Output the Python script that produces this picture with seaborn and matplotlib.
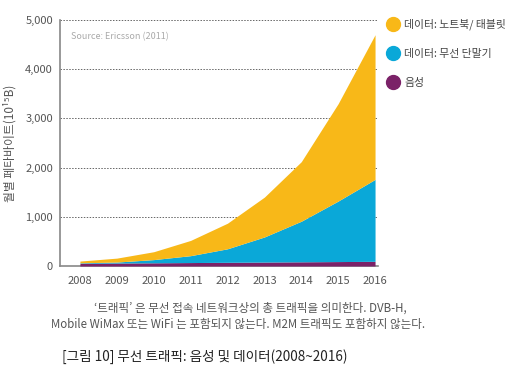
import matplotlib
matplotlib.use("Agg")
import matplotlib.pyplot as plt
from matplotlib.lines import Line2D
import seaborn as sns
import pandas as pd

years = [2008, 2009, 2010, 2011, 2012, 2013, 2014, 2015, 2016]
voice = [55, 60, 65, 70, 75, 80, 85, 90, 95]
mobile = [10, 20, 65, 140, 275, 510, 825, 1230, 1665]
notebook = [35, 80, 160, 310, 520, 810, 1210, 1980, 2940]
labels = ['데이터: 노트북/ 태블릿', '데이터: 무선 단말기', '음성']
colors = ['#F8B818', '#0AA8D8', '#7B2268']
yticks = [0, 1000, 2000, 3000, 4000, 5000]

sns.set_style('white')
plt.rcParams['font.family'] = ['Noto Sans CJK KR', 'DejaVu Sans']

df = pd.DataFrame({'year': years, 'voice': voice, 'mobile': mobile, 'notebook': notebook})

fig = plt.figure(figsize=(5.2, 3.79), dpi=100)
ax = fig.add_axes([60/520, 1-266/379, 318/520, 246/379])

ax.stackplot(df['year'], df['voice'], df['mobile'], df['notebook'],
             colors=[colors[2], colors[1], colors[0]], linewidth=0, zorder=3)

ax.set_xlim(2007.46, 2016.08)
ax.set_ylim(0, 5000)
ax.set_xticks(years)
ax.set_yticks(yticks)
ax.set_yticklabels([f'{v:,}' for v in yticks])
ax.grid(axis='y', linestyle=(0, (1.5, 1.5)), color='#666666', linewidth=0.7, zorder=0)
ax.grid(axis='x', visible=False)
ax.tick_params(axis='both', labelsize=8, colors='#555555', length=0)
ax.tick_params(axis='x', pad=7)
ax.tick_params(axis='y', pad=5)
for s in ['top', 'right']:
    ax.spines[s].set_visible(False)
for s in ['left', 'bottom']:
    ax.spines[s].set_color('#888888')
    ax.spines[s].set_linewidth(1.2)

ax.set_ylabel('월별 페타바이트(10¹⁵B)', fontsize=8.5, color='#555555', labelpad=6)
ax.text(0.035, 0.95, 'Source: Ericsson (2011)', transform=ax.transAxes,
        fontsize=6.5, color='#aaaaaa', va='top')

handles = [Line2D([], [], marker='o', ls='', color=c, markersize=10) for c in colors]
fig.legend(handles, labels, loc='upper left', bbox_to_anchor=(372/520, 1-9/379),
           frameon=False, fontsize=7.8, labelspacing=1.75, handletextpad=0.1,
           labelcolor='#444444')

fig.text(250/520, 1-308/379, '‘트래픽’ 은 무선 접속 네트워크상의 총 트래픽을 의미한다. DVB-H,',
         ha='center', va='center', fontsize=8.3, color='#555555')
fig.text(238/520, 1-324/379, 'Mobile WiMax 또는 WiFi 는 포함되지 않는다. M2M 트래픽도 포함하지 않는다.',
         ha='center', va='center', fontsize=8.3, color='#555555')
fig.text(205/520, 1-357/379, '[그림 10] 무선 트래픽: 음성 및 데이터(2008~2016)',
         ha='center', va='center', fontsize=9.8, color='#222222')

fig.savefig('out.png', dpi=100)
